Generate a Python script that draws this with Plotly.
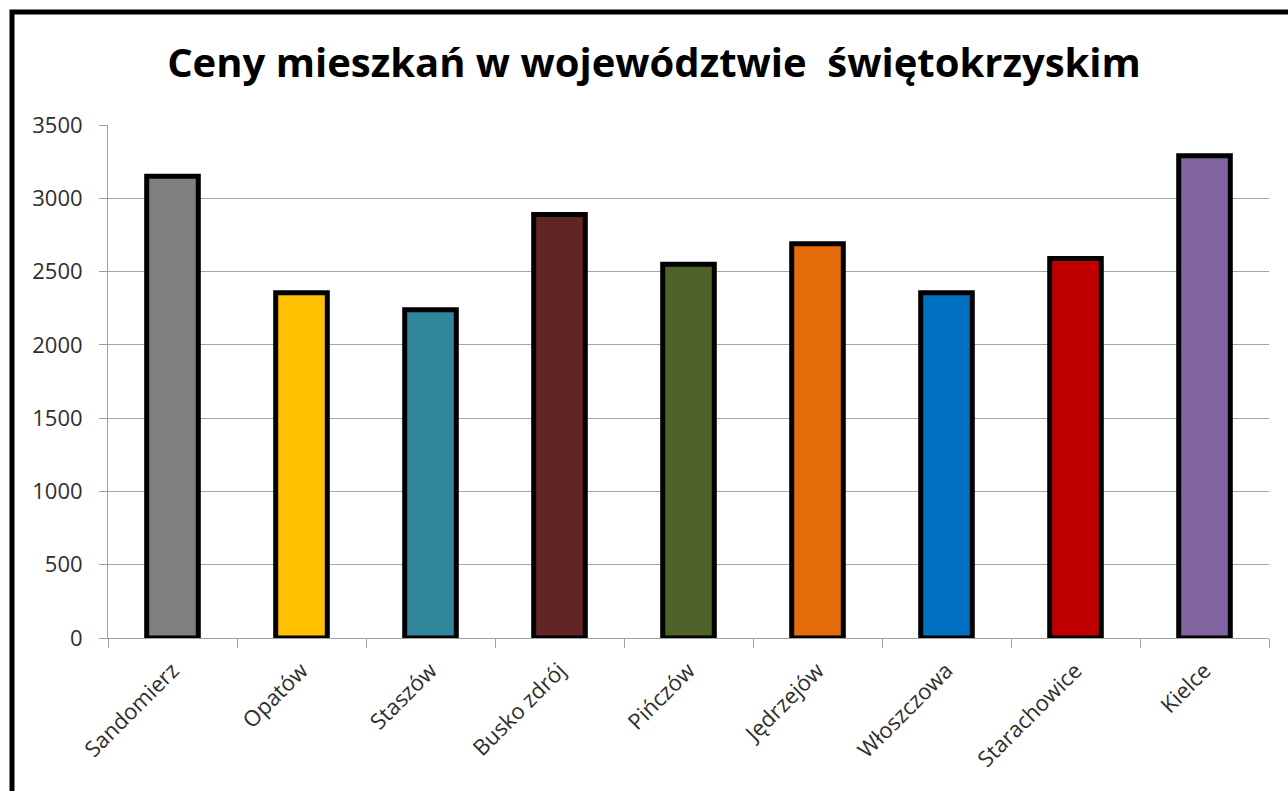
import plotly.graph_objects as go

# Average flat prices per town
towns = ["Sandomierz", "Opatów", "Staszów", "Busko zdrój", "Pińczów",
         "Jędrzejów", "Włoszczowa", "Starachowice", "Kielce"]
prices = [3150, 2355, 2240, 2890, 2550, 2690, 2355, 2590, 3290]
bar_colors = ["#7F7F7F", "#FFC000", "#31859C", "#632523", "#4F6228",
              "#E46C0A", "#0070C0", "#C00000", "#8064A2"]
y_ticks = [0, 500, 1000, 1500, 2000, 2500, 3000, 3500]

W, H = 1288, 791
L, R, T, B = 108, 19, 125, 153
pw, ph = W - L - R, H - T - B

fig = go.Figure(go.Bar(
    x=towns,
    y=prices,
    marker=dict(color=bar_colors, line=dict(color="#000000", width=5)),
    width=0.4,
))

axis_font = dict(family="Open Sans", size=22, color="#2E2E2E")

fig.update_layout(
    width=W, height=H,
    margin=dict(l=L, r=R, t=T, b=B),
    paper_bgcolor="white",
    plot_bgcolor="white",
    showlegend=False,
    title=dict(
        text="<b>Ceny mieszkań w województwie \u00a0świętokrzyskim</b>",
        font=dict(family="Open Sans", size=40, color="#000000"),
        x=654 / W, xanchor="center",
        y=1 - 63 / H, yanchor="middle",
    ),
    xaxis=dict(
        type="category",
        tickson="boundaries",
        ticks="outside", ticklen=9, tickcolor="#A0A0A0", tickwidth=1,
        showline=True, linecolor="#A0A0A0", linewidth=1,
        showgrid=False,
        tickangle=-45,
        tickfont=axis_font,
        ticklabelstandoff=10,
        range=[-0.5, len(towns) - 0.5],
    ),
    yaxis=dict(
        range=[0, 3500],
        tickvals=y_ticks,
        ticks="outside", ticklen=8, tickcolor="#A0A0A0", tickwidth=1,
        showline=True, linecolor="#A0A0A0", linewidth=1,
        showgrid=True, gridcolor="#A6A6A6", gridwidth=1,
        zeroline=False,
        tickfont=axis_font,
        ticklabelstandoff=12,
    ),
    shapes=[dict(
        type="rect", xref="paper", yref="paper",
        x0=(12 - L) / pw, x1=(W + 20 - L) / pw,
        y0=-(H + 20 - (T + ph)) / ph, y1=(T + ph - 12) / ph,
        line=dict(color="#000000", width=5),
        fillcolor="rgba(0,0,0,0)",
        layer="above",
    )],
)

fig.write_html("out.html")
